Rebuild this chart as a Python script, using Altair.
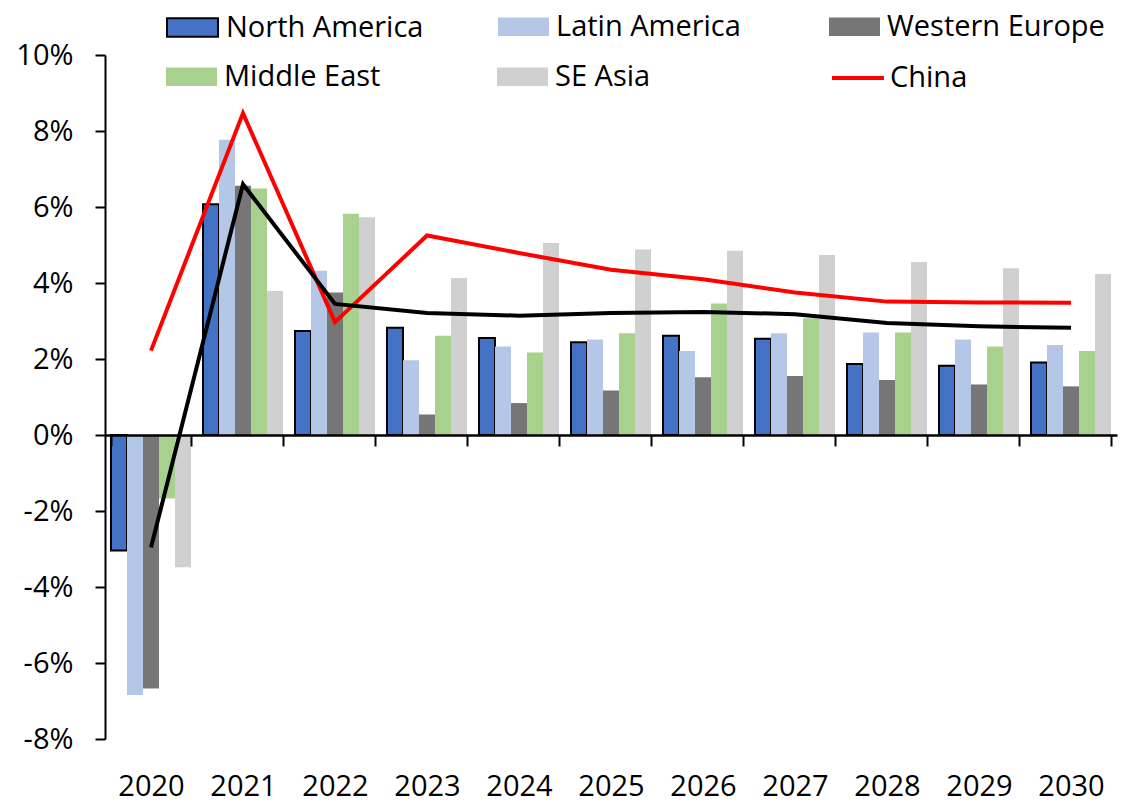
import altair as alt
import pandas as pd

# Annual growth, %
years = ["2020", "2021", "2022", "2023", "2024", "2025", "2026", "2027", "2028", "2029", "2030"]
regions = ["North America", "Latin America", "Western Europe", "Middle East", "SE Asia"]

north_america = [-3.04, 6.07, 2.74, 2.82, 2.55, 2.44, 2.61, 2.53, 1.87, 1.82, 1.91]
latin_america = [-6.84, 7.77, 4.32, 1.97, 2.33, 2.51, 2.21, 2.68, 2.70, 2.51, 2.37]
western_europe = [-6.67, 6.56, 3.75, 0.54, 0.84, 1.17, 1.52, 1.55, 1.45, 1.33, 1.28]
middle_east = [-1.67, 6.49, 5.82, 2.61, 2.17, 2.68, 3.46, 3.07, 2.70, 2.33, 2.21]
se_asia = [-3.48, 3.79, 5.73, 4.13, 5.05, 4.88, 4.85, 4.74, 4.55, 4.39, 4.24]
china = [2.22, 8.47, 2.97, 5.25, 4.79, 4.35, 4.10, 3.75, 3.51, 3.49, 3.48]
world = [-2.96, 6.60, 3.45, 3.21, 3.14, 3.21, 3.24, 3.18, 2.95, 2.86, 2.82]

bar_series = [north_america, latin_america, western_europe, middle_east, se_asia]
region_colors = ["#4472C4", "#B4C7E7", "#767676", "#A9D18E", "#D0D0D0"]

bars_df = pd.DataFrame(
    [{"year": y, "region": r, "value": v}
     for r, vals in zip(regions, bar_series)
     for y, v in zip(years, vals)]
)
china_df = pd.DataFrame({"year": years, "series": "China", "value": china})
world_df = pd.DataFrame({"year": years, "series": "World", "value": world})

FONT = "Open Sans"
FS = 29
RECT = "M-1,-0.36H1V0.36H-1Z"
ROW1_Y = -54
ROW2_Y = -4

x_enc = alt.X(
    "year:N",
    sort=years,
    scale=alt.Scale(paddingInner=0.13, paddingOuter=0.065),
    axis=alt.Axis(
        title=None,
        orient="bottom",
        offset=-304,
        labelAngle=0,
        labelPadding=326,
        tickBand="extent",
        tickSize=11,
        tickWidth=2,
        tickColor="black",
        domainColor="black",
        domainWidth=2.5,
        zindex=1,
    ),
)
y_enc = alt.Y(
    "value:Q",
    scale=alt.Scale(domain=[-8, 10], nice=False, zero=False),
    axis=alt.Axis(
        title=None,
        values=[-8, -6, -4, -2, 0, 2, 4, 6, 8, 10],
        labelExpr="datum.value + '%'",
        grid=False,
        tickSize=10,
        tickWidth=2,
        tickColor="black",
        domainColor="black",
        domainWidth=2,
        labelPadding=22,
    ),
)
xoff_enc = alt.XOffset(
    "region:N",
    sort=regions,
    scale=alt.Scale(domain=regions, paddingInner=0, paddingOuter=0),
)


def legend(values, x, y, col_pad=50, stroke=None):
    opts = dict(
        title=None,
        orient="none",
        legendX=x,
        legendY=y,
        direction="horizontal",
        columns=len(values),
        columnPadding=col_pad,
        values=values,
        symbolType=RECT,
        symbolSize=2601,
        symbolOpacity=1,
        labelFont=FONT,
        labelFontSize=FS,
        labelColor="black",
        labelOffset=7,
        labelLimit=400,
    )
    if stroke:
        opts.update(symbolStrokeColor=stroke, symbolStrokeWidth=2)
    else:
        opts.update(symbolStrokeWidth=0)
    return alt.Legend(**opts)


def bar_layer(subset, leg):
    return (
        alt.Chart(bars_df)
        .transform_filter(alt.FieldOneOfPredicate(field="region", oneOf=subset))
        .mark_bar(
            stroke="#000000" if "North America" in subset else "transparent",
            strokeWidth=2,
        )
        .encode(
            x=x_enc,
            y=y_enc,
            xOffset=xoff_enc,
            color=alt.Color(
                "region:N",
                scale=alt.Scale(domain=regions, range=region_colors),
                legend=leg,
            ),
        )
    )


bars_na = bar_layer(["North America"], legend(["North America"], 61, ROW1_Y, stroke="#000000"))
bars_row1 = bar_layer(["Latin America", "Western Europe"],
                      legend(["Latin America", "Western Europe"], 393, ROW1_Y, col_pad=88))
bars_row2 = bar_layer(["Middle East", "SE Asia"],
                      legend(["Middle East", "SE Asia"], 61, ROW2_Y, col_pad=116))

china_line = alt.Chart(china_df).mark_line(strokeWidth=4).encode(
    x=x_enc,
    y=y_enc,
    color=alt.Color(
        "series:N",
        scale=alt.Scale(domain=["China"], range=["#FF0000"]),
        legend=alt.Legend(
            title=None,
            orient="none",
            legendX=725,
            legendY=ROW2_Y - 1,
            symbolType="stroke",
            symbolSize=2704,
            symbolStrokeWidth=4,
            labelFont=FONT,
            labelFontSize=FS,
            labelColor="black",
            labelOffset=4,
        ),
    ),
    order=alt.Order("year:N"),
)

world_line = alt.Chart(world_df).mark_line(strokeWidth=4, color="#000000").encode(
    x=x_enc,
    y=y_enc,
    order=alt.Order("year:N"),
)

chart = (
    alt.layer(bars_na, bars_row1, bars_row2, china_line, world_line)
    .resolve_scale(color="independent")
    .properties(
        width=1012,
        height=684,
        padding={"left": 105, "top": 55, "right": 23, "bottom": 65},
        autosize=alt.AutoSizeParams(type="none"),
        background="white",
    )
    .configure_view(strokeWidth=0)
    .configure_axis(labelFont=FONT, labelFontSize=FS, labelColor="black")
)

chart.save("out.html", embed_options={"renderer": "svg", "actions": False})
